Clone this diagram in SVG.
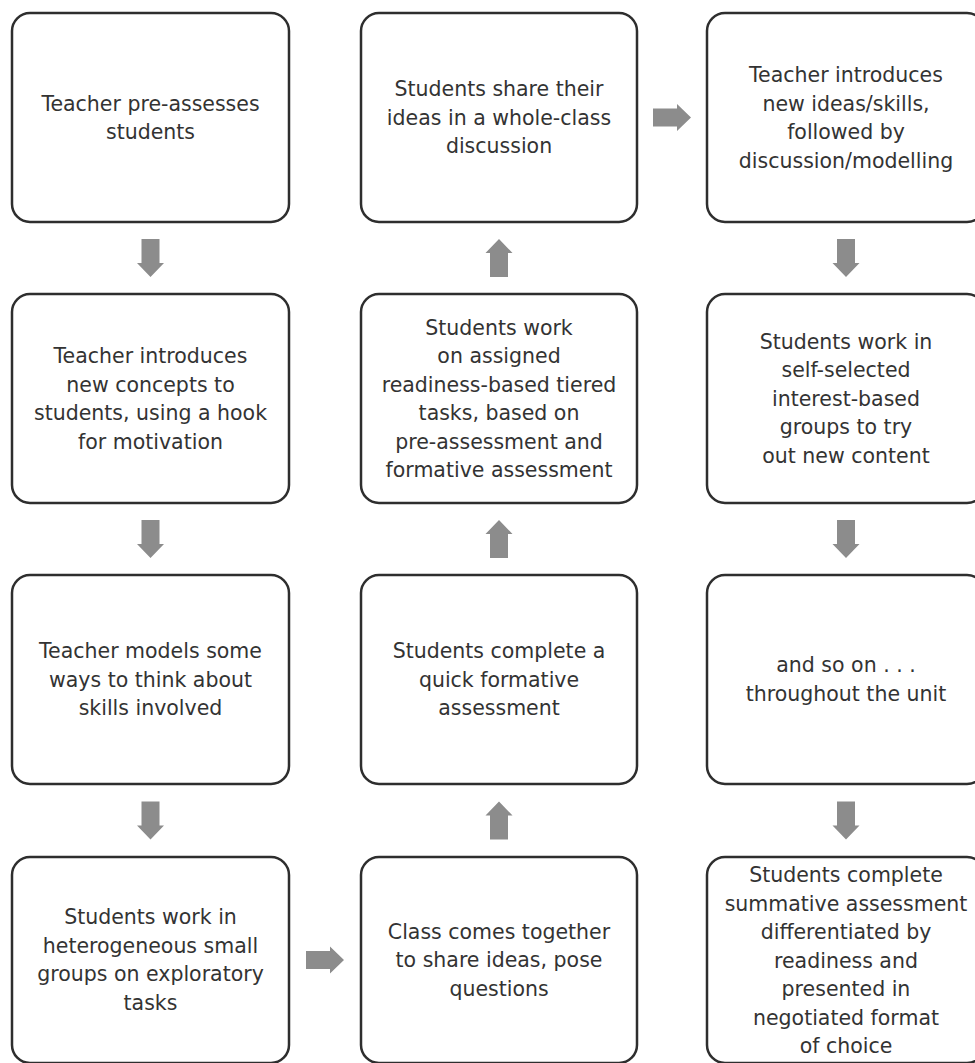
<svg xmlns="http://www.w3.org/2000/svg" xmlns:xlink="http://www.w3.org/1999/xlink" width="975" height="1063" viewBox="0 0 975 1063">
  <style>
    .box { fill: #ffffff; stroke: #2e2e2e; stroke-width: 2.5; }
    .lbl { font-family: "DejaVu Sans", "Liberation Sans", sans-serif; font-size: 20.5px; fill: #333333; text-anchor: middle; }
    .arr { fill: #8c8c8c; }
  </style>
  <defs>
    <!-- block arrow pointing down, centred on the origin -->
    <path id="blockArrow" class="arr" d="M-9,-19 H9 V5 H13.5 L0,19 L-13.5,5 H-9 Z"/>
  </defs>
  <rect width="975" height="1063" fill="#ffffff"/>

  <g id="connectors">
    <!-- left column, downwards -->
    <use xlink:href="#blockArrow" transform="translate(150.5,258)"/>
    <use xlink:href="#blockArrow" transform="translate(150.5,539)"/>
    <use xlink:href="#blockArrow" transform="translate(150.5,820.5)"/>
    <!-- bottom row, left to middle -->
    <use xlink:href="#blockArrow" transform="translate(325,960) rotate(-90)"/>
    <!-- middle column, upwards -->
    <use xlink:href="#blockArrow" transform="translate(499,820.5) rotate(180)"/>
    <use xlink:href="#blockArrow" transform="translate(499,539) rotate(180)"/>
    <use xlink:href="#blockArrow" transform="translate(499,258) rotate(180)"/>
    <!-- top row, middle to right -->
    <use xlink:href="#blockArrow" transform="translate(672,117.5) rotate(-90)"/>
    <!-- right column, downwards -->
    <use xlink:href="#blockArrow" transform="translate(846,258)"/>
    <use xlink:href="#blockArrow" transform="translate(846,539)"/>
    <use xlink:href="#blockArrow" transform="translate(846,820.5)"/>
  </g>

  <!-- left column -->
  <g id="pre-assess">
    <rect class="box" x="12" y="13" width="277" height="209" rx="18"/>
    <text class="lbl" x="150.5" y="110.5">Teacher pre-assesses</text>
    <text class="lbl" x="150.5" y="139">students</text>
  </g>
  <g id="introduce-concepts">
    <rect class="box" x="12" y="294" width="277" height="209" rx="18"/>
    <text class="lbl" x="150.5" y="363">Teacher introduces</text>
    <text class="lbl" x="150.5" y="391.5">new concepts to</text>
    <text class="lbl" x="150.5" y="420">students, using a hook</text>
    <text class="lbl" x="150.5" y="448.5">for motivation</text>
  </g>
  <g id="teacher-models">
    <rect class="box" x="12" y="575" width="277" height="209" rx="18"/>
    <text class="lbl" x="150.5" y="658">Teacher models some</text>
    <text class="lbl" x="150.5" y="686.5">ways to think about</text>
    <text class="lbl" x="150.5" y="715">skills involved</text>
  </g>
  <g id="small-groups">
    <rect class="box" x="12" y="857" width="277" height="206" rx="18"/>
    <text class="lbl" x="150.5" y="924">Students work in</text>
    <text class="lbl" x="150.5" y="952.5">heterogeneous small</text>
    <text class="lbl" x="150.5" y="981">groups on exploratory</text>
    <text class="lbl" x="150.5" y="1009.5">tasks</text>
  </g>

  <!-- middle column -->
  <g id="class-together">
    <rect class="box" x="361" y="857" width="276" height="206" rx="18"/>
    <text class="lbl" x="499" y="938.5">Class comes together</text>
    <text class="lbl" x="499" y="967">to share ideas, pose</text>
    <text class="lbl" x="499" y="995.5">questions</text>
  </g>
  <g id="formative-quick">
    <rect class="box" x="361" y="575" width="276" height="209" rx="18"/>
    <text class="lbl" x="499" y="658">Students complete a</text>
    <text class="lbl" x="499" y="686.5">quick formative</text>
    <text class="lbl" x="499" y="715">assessment</text>
  </g>
  <g id="tiered-tasks">
    <rect class="box" x="361" y="294" width="276" height="209" rx="18"/>
    <text class="lbl" x="499" y="334.5">Students work</text>
    <text class="lbl" x="499" y="363">on assigned</text>
    <text class="lbl" x="499" y="391.5">readiness-based tiered</text>
    <text class="lbl" x="499" y="420">tasks, based on</text>
    <text class="lbl" x="499" y="448.5">pre-assessment and</text>
    <text class="lbl" x="499" y="477">formative assessment</text>
  </g>
  <g id="share-ideas">
    <rect class="box" x="361" y="13" width="276" height="209" rx="18"/>
    <text class="lbl" x="499" y="96">Students share their</text>
    <text class="lbl" x="499" y="124.5">ideas in a whole-class</text>
    <text class="lbl" x="499" y="153">discussion</text>
  </g>

  <!-- right column (runs past the right edge) -->
  <g id="introduce-ideas">
    <rect class="box" x="707" y="13" width="278" height="209" rx="18"/>
    <text class="lbl" x="846" y="82">Teacher introduces</text>
    <text class="lbl" x="846" y="110.5">new ideas/skills,</text>
    <text class="lbl" x="846" y="139">followed by</text>
    <text class="lbl" x="846" y="167.5">discussion/modelling</text>
  </g>
  <g id="interest-groups">
    <rect class="box" x="707" y="294" width="278" height="209" rx="18"/>
    <text class="lbl" x="846" y="348.5">Students work in</text>
    <text class="lbl" x="846" y="377">self-selected</text>
    <text class="lbl" x="846" y="405.5">interest-based</text>
    <text class="lbl" x="846" y="434">groups to try</text>
    <text class="lbl" x="846" y="462.5">out new content</text>
  </g>
  <g id="and-so-on">
    <rect class="box" x="707" y="575" width="278" height="209" rx="18"/>
    <text class="lbl" x="846" y="672">and so on . . .</text>
    <text class="lbl" x="846" y="700.5">throughout the unit</text>
  </g>
  <g id="summative">
    <rect class="box" x="707" y="857" width="278" height="206" rx="18"/>
    <text class="lbl" x="846" y="882">Students complete</text>
    <text class="lbl" x="846" y="910.5">summative assessment</text>
    <text class="lbl" x="846" y="939">differentiated by</text>
    <text class="lbl" x="846" y="967.5">readiness and</text>
    <text class="lbl" x="846" y="996">presented in</text>
    <text class="lbl" x="846" y="1024.5">negotiated format</text>
    <text class="lbl" x="846" y="1053">of choice</text>
  </g>
</svg>
